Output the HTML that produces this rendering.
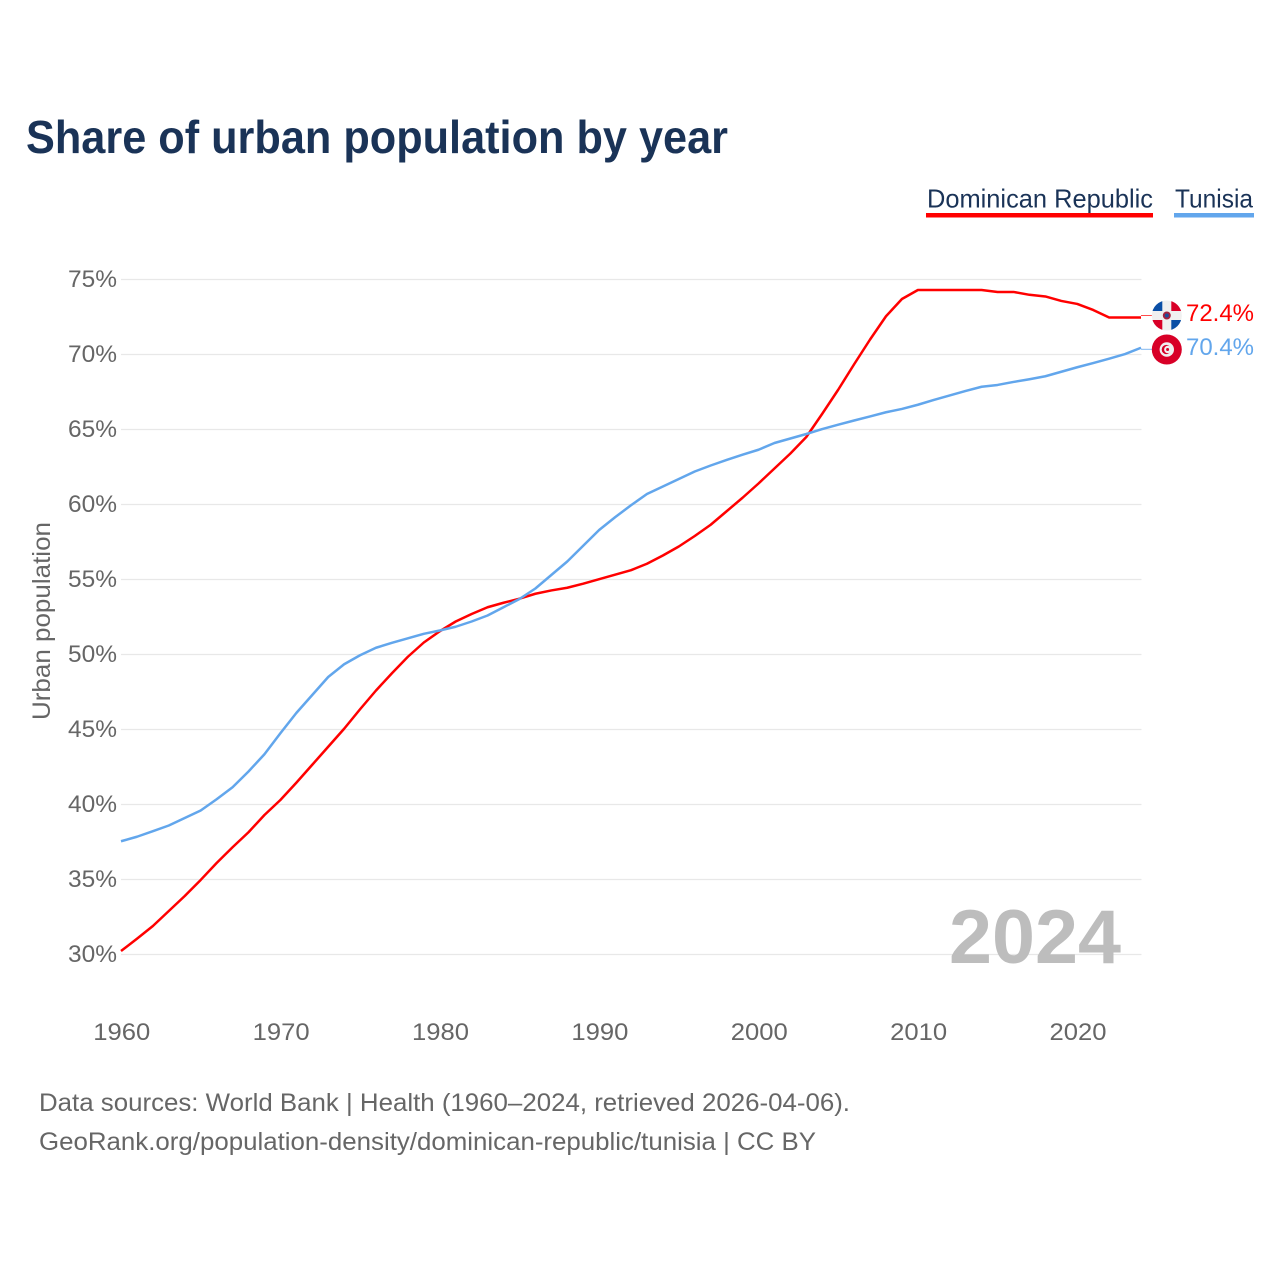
<!DOCTYPE html>
<html lang="en">
<head>
<meta charset="utf-8">
<title>Share of urban population by year</title>
<style>
html,body{margin:0;padding:0;background:#fff;}
svg{display:block;font-family:"Liberation Sans",sans-serif;}
</style>
</head>
<body>
<svg id="chart" xmlns="http://www.w3.org/2000/svg" width="1280" height="1280" viewBox="0 0 1280 1280">
  <rect width="1280" height="1280" fill="#ffffff"/>
  <defs>
    <clipPath id="clip-dr"><circle cx="1166.8" cy="315.5" r="15"/></clipPath>
    <clipPath id="clip-tn"><circle cx="1166.8" cy="349.5" r="15"/></clipPath>
  </defs>
  <text x="26" y="153" font-size="46" font-weight="700" fill="#1a3357" textLength="702" lengthAdjust="spacingAndGlyphs">Share of urban population by year</text>

  <g>
    <g>
      <text x="927" y="207.5" font-size="26" fill="#1a3357" textLength="226" lengthAdjust="spacingAndGlyphs">Dominican Republic</text>
      <rect x="926" y="213" width="227" height="4.5" fill="#ff0000"/>
    </g>
    <g>
      <text x="1175" y="207.5" font-size="26" fill="#1a3357" textLength="78" lengthAdjust="spacingAndGlyphs">Tunisia</text>
      <rect x="1174" y="213" width="80" height="4.5" fill="#62a6ec"/>
    </g>
  </g>

  <g id="grid"></g>
  <g id="yticks"></g>
  <g id="xticks"></g>

  <text transform="translate(50,621) rotate(-90)" text-anchor="middle" font-size="25" fill="#666666" textLength="198" lengthAdjust="spacingAndGlyphs">Urban population</text>

  <text x="1121" y="963" text-anchor="end" font-size="76" font-weight="700" fill="#bdbdbd" textLength="172" lengthAdjust="spacingAndGlyphs">2024</text>

  <g id="series"></g>

  <g clip-path="url(#clip-dr)">
    <rect x="1151" y="300" width="32" height="32" fill="#f0f0f0"/>
    <rect x="1151" y="300" width="11.3" height="11" fill="#0a4fa6"/>
    <rect x="1171.3" y="300" width="12" height="11" fill="#d80027"/>
    <rect x="1151" y="320" width="11.3" height="12" fill="#d80027"/>
    <rect x="1171.3" y="320" width="12" height="12" fill="#0a4fa6"/>
    <circle cx="1166.8" cy="315.5" r="4" fill="#a2223f"/>
    <circle cx="1166.8" cy="315.5" r="2" fill="#1c4f9c"/>
  </g>
  <g clip-path="url(#clip-tn)">
    <rect x="1151" y="334" width="32" height="32" fill="#d80027"/>
    <circle cx="1166.8" cy="349.5" r="7.2" fill="#f0f0f0"/>
    <circle cx="1166.3" cy="349.5" r="4.6" fill="#d80027"/>
    <circle cx="1167.8" cy="349.5" r="3.7" fill="#f0f0f0"/>
    <circle cx="1167.6" cy="349.5" r="1.5" fill="#d80027"/>
  </g>

  <g id="endlabels"></g>

  <text x="39" y="1111" font-size="25" fill="#666666" textLength="811" lengthAdjust="spacingAndGlyphs">Data sources: World Bank | Health (1960–2024, retrieved 2026-04-06).</text>
  <text x="39" y="1150" font-size="25" fill="#666666" textLength="777" lengthAdjust="spacingAndGlyphs">GeoRank.org/population-density/dominican-republic/tunisia | CC BY</text>
</svg>

<script>
var startYear = 1960;
var endYear = 2024;
var yTickValues = [30, 35, 40, 45, 50, 55, 60, 65, 70, 75];
var yTickLabels = ["30%", "35%", "40%", "45%", "50%", "55%", "60%", "65%", "70%", "75%"];
var xTickValues = [1960, 1970, 1980, 1990, 2000, 2010, 2020];
var xTickLabels = ["1960", "1970", "1980", "1990", "2000", "2010", "2020"];
var dominicanValues = [
  30.23, 31.05, 31.9, 32.9, 33.9, 34.97, 36.1, 37.15, 38.15, 39.3,
  40.3, 41.45, 42.65, 43.85, 45.05, 46.35, 47.6, 48.75, 49.85, 50.8,
  51.55, 52.2, 52.7, 53.15, 53.45, 53.72, 54.05, 54.27, 54.45, 54.72,
  55.02, 55.32, 55.62, 56.05, 56.6, 57.2, 57.9, 58.65, 59.55, 60.45,
  61.4, 62.4, 63.4, 64.5, 66.05, 67.65, 69.35, 71.0, 72.55, 73.7,
  74.3, 74.3, 74.3, 74.3, 74.3, 74.17, 74.17, 73.98, 73.87, 73.57,
  73.37, 72.97, 72.47, 72.47, 72.47
];
var tunisiaValues = [
  37.55, 37.85, 38.22, 38.6, 39.1, 39.6, 40.35, 41.15, 42.2, 43.35,
  44.75, 46.1, 47.3, 48.5, 49.35, 49.95, 50.45, 50.78, 51.08, 51.38,
  51.6, 51.85, 52.2, 52.6, 53.15, 53.7, 54.4, 55.3, 56.2, 57.25,
  58.3, 59.15, 59.95, 60.7, 61.2, 61.7, 62.2, 62.6, 62.97, 63.32,
  63.65, 64.1, 64.4, 64.7, 65.03, 65.32, 65.6, 65.87, 66.15, 66.37,
  66.65, 66.97, 67.27, 67.57, 67.85, 67.97, 68.17, 68.35, 68.55, 68.85,
  69.15, 69.43, 69.72, 70.03, 70.45
];
var dominicanLabel = "72.4%";
var tunisiaLabel = "70.4%";

var NS = "http://www.w3.org/2000/svg";
var plotLeft = 121, plotRight = 1141;
function xScale(year) {
  return plotLeft + (year - startYear) * (plotRight - plotLeft) / (endYear - startYear);
}
function yScale(v) {
  return 954.5 - (v - 30) * 15;
}
function make(tag, parent, attrs, text) {
  var el = document.createElementNS(NS, tag);
  for (var k in attrs) el.setAttribute(k, attrs[k]);
  if (text !== undefined) el.textContent = text;
  parent.appendChild(el);
  return el;
}
var grid = document.getElementById("grid");
var yticks = document.getElementById("yticks");
var xticks = document.getElementById("xticks");
var seriesGroup = document.getElementById("series");
var endLabels = document.getElementById("endlabels");

yTickValues.forEach(function (v, i) {
  var line = make("line", grid, {x1: plotLeft, x2: plotRight + 0.5, y1: yScale(v), y2: yScale(v), stroke: "#e8e8e8", "stroke-width": 1.3});
  
  
  var label = make("text", yticks, {x: 117, y: yScale(v) + 7.5, "text-anchor": "end", "font-size": 24.5, fill: "#666666", textLength: 49, lengthAdjust: "spacingAndGlyphs"}, yTickLabels[i]);
  
  
});

xTickValues.forEach(function (y, i) {
  var label = make("text", xticks, {x: xScale(y) + 0.8, y: 1040, "text-anchor": "middle", "font-size": 24.5, fill: "#666666", textLength: 57, lengthAdjust: "spacingAndGlyphs"}, xTickLabels[i]);
  
  
});

function pathFor(values) {
  return values.map(function (v, i) {
    return (i ? "L" : "M") + xScale(startYear + i).toFixed(2) + " " + yScale(v).toFixed(2);
  }).join(" ");
}

var domLine = make("path", seriesGroup, {d: pathFor(dominicanValues), fill: "none", stroke: "#ff0000", "stroke-width": 2.5, "stroke-linejoin": "round"});



var tunLine = make("path", seriesGroup, {d: pathFor(tunisiaValues), fill: "none", stroke: "#62a6ec", "stroke-width": 2.5, "stroke-linejoin": "round"});



var domConnector = make("line", seriesGroup, {x1: plotRight, y1: 315.5, x2: 1152, y2: 315.5, stroke: "#ff0000", "stroke-width": 1, "stroke-opacity": 0.7});



var tunConnector = make("line", seriesGroup, {x1: plotRight, y1: 349.3, x2: 1152, y2: 349.3, stroke: "#62a6ec", "stroke-width": 1, "stroke-opacity": 0.8});



var domLabel = make("text", endLabels, {x: 1186, y: 321, "font-size": 24.5, fill: "#ff0000", textLength: 68, lengthAdjust: "spacingAndGlyphs"}, dominicanLabel);



var tunLabel = make("text", endLabels, {x: 1186, y: 355, "font-size": 24.5, fill: "#62a6ec", textLength: 68, lengthAdjust: "spacingAndGlyphs"}, tunisiaLabel);


</script>
</body>
</html>
